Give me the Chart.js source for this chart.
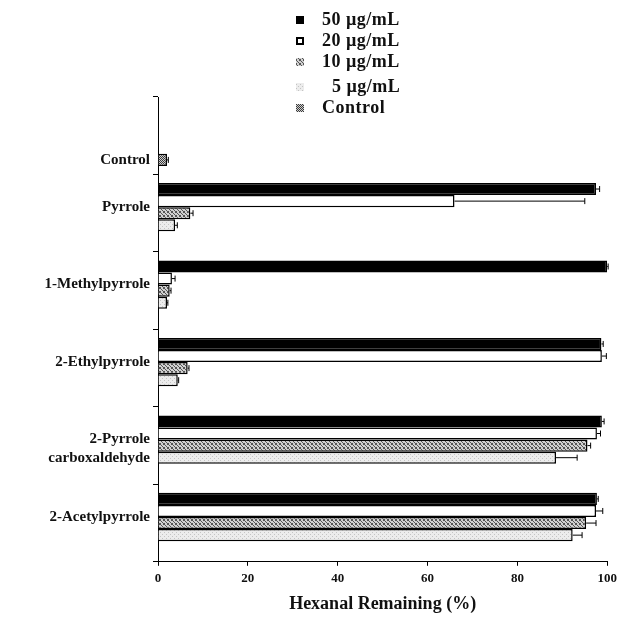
<!DOCTYPE html>
<html>
<head>
<meta charset="utf-8">
<script src="https://cdn.jsdelivr.net/npm/chart.js@4/dist/chart.umd.min.js"></script>
<style>
  html, body { margin: 0; padding: 0; background: #fff; overflow: hidden; }
  #wrap { width: 622px; height: 619px; position: relative; }
</style>
</head>
<body>
<div id="wrap"><canvas id="chart"></canvas></div>
<script>
const categories = ['Control', 'Pyrrole', '1-Methylpyrrole', '2-Ethylpyrrole', ['2-Pyrrole', 'carboxaldehyde'], '2-Acetylpyrrole'];

const conc50 = [null, 97.5, 100, 98.7, 98.8, 97.7];
const conc50Err = [null, 0.8, 0.2, 0.4, 0.5, 0.3];
const conc20 = [null, 66, 3.1, 98.8, 97.7, 97.5];
const conc20Err = [null, 29, 0.7, 1.0, 0.8, 1.5];
const conc10 = [null, 7.2, 2.6, 6.6, 95.6, 95.3];
const conc10Err = [null, 0.6, 0.3, 0.3, 0.7, 2.2];
const conc5 = [null, 3.8, 2.0, 4.4, 88.6, 92.3];
const conc5Err = [null, 0.5, 0.2, 0.2, 4.7, 2.1];
const controlVals = [2.0, null, null, null, null, null];
const controlErr = [0.3, null, null, null, null, null];

const seriesLabels = ['50 \u00b5g/mL', '20 \u00b5g/mL', '10 \u00b5g/mL', '  5 \u00b5g/mL', 'Control'];
const xTicks = [0, 20, 40, 60, 80, 100];

const SERIF = "'Liberation Serif', 'DejaVu Serif', serif";

function makePattern(size, draw) {
  const c = document.createElement('canvas');
  c.width = size;
  c.height = size;
  draw(c.getContext('2d'));
  return c.getContext('2d').createPattern(c, 'repeat');
}

const hatchPattern = makePattern(4, g => {
  g.fillStyle = '#d0d0d0';
  g.fillRect(0, 0, 4, 4);
  g.fillStyle = '#555';
  g.fillRect(0, 0, 1, 1); g.fillRect(1, 1, 1, 1); g.fillRect(2, 2, 1, 1); g.fillRect(3, 3, 1, 1);
  g.fillRect(3, 0, 1, 1); g.fillRect(0, 3, 1, 1);
});

const dotPattern = makePattern(4, g => {
  g.fillStyle = '#ececec';
  g.fillRect(0, 0, 4, 4);
  g.fillStyle = '#c4c4c4';
  g.fillRect(0, 0, 1, 1); g.fillRect(2, 2, 1, 1);
});

const checkPattern = makePattern(2, g => {
  g.fillStyle = '#cfcfcf';
  g.fillRect(0, 0, 2, 2);
  g.fillStyle = '#3a3a3a';
  g.fillRect(0, 0, 1, 1); g.fillRect(1, 1, 1, 1);
});

const fills = ['#000000', '#ffffff', hatchPattern, dotPattern, checkPattern];
const values = [conc50, conc20, conc10, conc5, controlVals];
const errors = [conc50Err, conc20Err, conc10Err, conc5Err, controlErr];

const datasets = values.map((v, i) => ({
  label: seriesLabels[i],
  data: v,
  errors: errors[i],
  backgroundColor: fills[i],
  borderColor: '#000',
  borderWidth: 1.5,
  barPercentage: 1.0,
  categoryPercentage: 0.78
}));

// one-sided error bars
const errorBars = {
  id: 'errorBars',
  afterDatasetsDraw(chart) {
    const ctx = chart.ctx;
    const xs = chart.scales.x;
    ctx.save();
    ctx.strokeStyle = '#000';
    ctx.lineWidth = 1;
    chart.data.datasets.forEach((ds, di) => {
      const meta = chart.getDatasetMeta(di);
      meta.data.forEach((bar, i) => {
        const v = ds.data[i];
        const e = ds.errors[i];
        if (v == null || !e) return;
        const x0 = xs.getPixelForValue(v);
        const x1 = xs.getPixelForValue(v + e);
        ctx.beginPath();
        ctx.moveTo(x0, bar.y);
        ctx.lineTo(x1, bar.y);
        ctx.moveTo(x1, bar.y - 3);
        ctx.lineTo(x1, bar.y + 3);
        ctx.stroke();
      });
    });
    ctx.restore();
  }
};

// category names placed at the middle of each group's drawn bars
const groupLabels = {
  id: 'groupLabels',
  afterDraw(chart) {
    const ctx = chart.ctx;
    ctx.save();
    ctx.fillStyle = '#111';
    ctx.font = 'bold 15px ' + SERIF;
    ctx.textAlign = 'right';
    ctx.textBaseline = 'middle';
    const x = chart.chartArea.left - 8;
    chart.data.labels.forEach((lab, i) => {
      let sum = 0, n = 0;
      chart.data.datasets.forEach((ds, di) => {
        if (ds.data[i] == null) return;
        sum += chart.getDatasetMeta(di).data[i].y;
        n++;
      });
      const y = sum / n;
      const lines = Array.isArray(lab) ? lab : [lab];
      lines.forEach((t, k) => ctx.fillText(t, x, y + k * 19));
    });
    ctx.restore();
  }
};

// stacked legend in the top margin
const stackLegend = {
  id: 'stackLegend',
  afterDraw(chart) {
    const ctx = chart.ctx;
    const rows = [20, 41, 62, 87, 108];
    ctx.save();
    ctx.font = 'bold 18px ' + SERIF;
    ctx.letterSpacing = '0.5px';
    ctx.textBaseline = 'middle';
    ctx.textAlign = 'left';
    chart.data.datasets.forEach((ds, i) => {
      const y = rows[i];
      ctx.fillStyle = ds.backgroundColor;
      ctx.fillRect(296, y - 4, 8, 8);
      if (i === 1) {
        ctx.strokeStyle = '#000';
        ctx.lineWidth = 2;
        ctx.strokeRect(297, y - 3, 6, 6);
      }
      ctx.fillStyle = '#111';
      ctx.fillText(ds.label, 322, y);
    });
    ctx.restore();
  }
};

new Chart(document.getElementById('chart'), {
  type: 'bar',
  data: { labels: categories, datasets },
  options: {
    indexAxis: 'y',
    responsive: true,
    maintainAspectRatio: false,
    animation: false,
    layout: { padding: { top: 97, left: 153, right: 0, bottom: 4 } },
    plugins: {
      legend: { display: false },
      tooltip: { enabled: false }
    },
    scales: {
      x: {
        min: 0,
        max: 100,
        afterBuildTicks: axis => { axis.ticks = xTicks.map(v => ({ value: v })); },
        ticks: { color: '#111', font: { family: SERIF, size: 13, weight: 'bold' }, padding: 5 },
        grid: { drawOnChartArea: false, tickLength: 4, color: '#000' },
        border: { color: '#000', width: 1 },
        title: {
          display: true,
          text: 'Hexanal Remaining (%)',
          color: '#111',
          font: { family: SERIF, size: 18, weight: 'bold' },
          padding: { top: 2, bottom: 0 }
        }
      },
      y: {
        offset: true,
        ticks: { display: false },
        grid: { offset: true, drawOnChartArea: false, tickLength: 5, color: '#000' },
        border: { color: '#000', width: 1 }
      }
    }
  },
  plugins: [errorBars, groupLabels, stackLegend]
});
</script>
</body>
</html>
